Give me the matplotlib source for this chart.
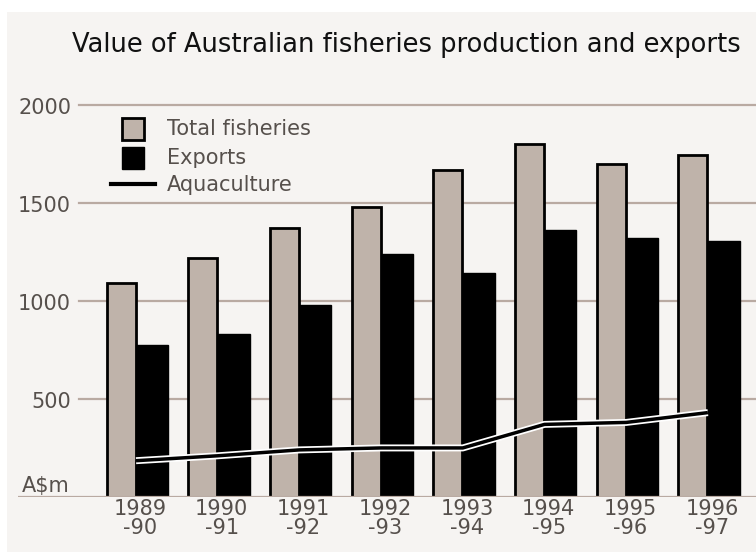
import matplotlib.pyplot as plt
import matplotlib.patheffects as pe
from matplotlib.patches import Rectangle
from matplotlib.lines import Line2D

# --- Données (A$m) ---
annees = ["1989\n-90", "1990\n-91", "1991\n-92", "1992\n-93",
          "1993\n-94", "1994\n-95", "1995\n-96", "1996\n-97"]
total_fisheries = [1090, 1220, 1370, 1480, 1665, 1800, 1695, 1745]
exports = [775, 830, 980, 1240, 1140, 1360, 1320, 1305]
aquaculture = [185, 210, 240, 250, 250, 370, 380, 430]
ticks_y = [500, 1000, 1500, 2000]

# --- Styles ---
FOND = "#f6f4f2"
BEIGE = "#bfb3aa"
GRILLE = "#b9aaa2"
GRIS_TEXTE = "#56504c"
W, H = 756, 552

def px(x, y):
    # pixels (origine en haut à gauche) -> fraction de figure
    return x / W, (H - y) / H

fig = plt.figure(figsize=(W / 100, H / 100), dpi=100, facecolor="white")
fig.patches.append(Rectangle(px(7, H), (W - 7) / W, (H - 12) / H,
                             transform=fig.transFigure, facecolor=FOND,
                             edgecolor="none", zorder=-10))

# axes : de x=18 à x=756, y=0 à 497 px, haut à ~2070
left, right = 18, 756
bottom_px = 497
top_val = 2070
ppu = 0.19625
top_px = bottom_px - top_val * ppu
ax = fig.add_axes([left / W, (H - bottom_px) / H, (right - left) / W,
                   (bottom_px - top_px) / H])
ax.set_facecolor("none")

pas = 81.7
centre0 = 136
ax.set_xlim((left - centre0) / pas, (right - centre0) / pas)
ax.set_ylim(0, top_val)

xs = list(range(len(annees)))
ax.bar([x - 0.36 for x in xs], total_fisheries, width=0.355, align="edge",
       color=BEIGE, edgecolor="black", linewidth=2, zorder=2)
ax.bar([x + 0.005 for x in xs], exports, width=0.385, align="edge",
       color="black", edgecolor="black", linewidth=1, zorder=2)
ax.plot(xs, aquaculture, color="black", linewidth=2.5, zorder=4,
        solid_capstyle="butt",
        path_effects=[pe.Stroke(linewidth=5, foreground="white"), pe.Normal()])

# grille
gx = (79 - left) / (right - left)
for v in ticks_y:
    ax.axhline(v, xmin=gx, xmax=1, color=GRILLE, linewidth=1.6, zorder=1)
ax.axhline(0, xmin=0, xmax=1, color=GRILLE, linewidth=1.6, zorder=3)

for s in ax.spines.values():
    s.set_visible(False)
ax.set_xticks([])
ax.set_yticks([])

police = "DejaVu Sans"
for v in ticks_y:
    ax.text((71 - centre0) / pas, v - 18, str(v), ha="right", va="center",
            fontsize=15, color=GRIS_TEXTE, family=police)
ax.text((70 - centre0) / pas, 58, "A$m", ha="right", va="center",
        fontsize=15, color=GRIS_TEXTE, family=police)

for x, lab in zip(xs, annees):
    ax.text(x + 0.05, -10, lab, ha="center", va="top", fontsize=15,
            color=GRIS_TEXTE, family=police, linespacing=0.95)

# titre
fig.text(*px(406, 45), "Value of Australian fisheries production and exports",
         ha="center", va="center", fontsize=18.5, color="#111111", family=police)

# légende manuelle
fig.patches.append(Rectangle(px(122, 140), 22 / W, 22 / H, transform=fig.transFigure,
                             facecolor=BEIGE, edgecolor="black", linewidth=2))
fig.patches.append(Rectangle(px(122, 169), 22 / W, 22 / H, transform=fig.transFigure,
                             facecolor="black", edgecolor="black", linewidth=1))
x1, y1 = px(111, 184)
x2, _ = px(155, 184)
fig.lines.append(Line2D([x1, x2], [y1, y1], transform=fig.transFigure,
                        color="black", linewidth=3))
for y, t in [(129, "Total fisheries"), (158, "Exports"), (185, "Aquaculture")]:
    fig.text(*px(167, y), t, ha="left", va="center", fontsize=15,
             color=GRIS_TEXTE, family=police)

fig.savefig("out.png", dpi=100, facecolor="white")
